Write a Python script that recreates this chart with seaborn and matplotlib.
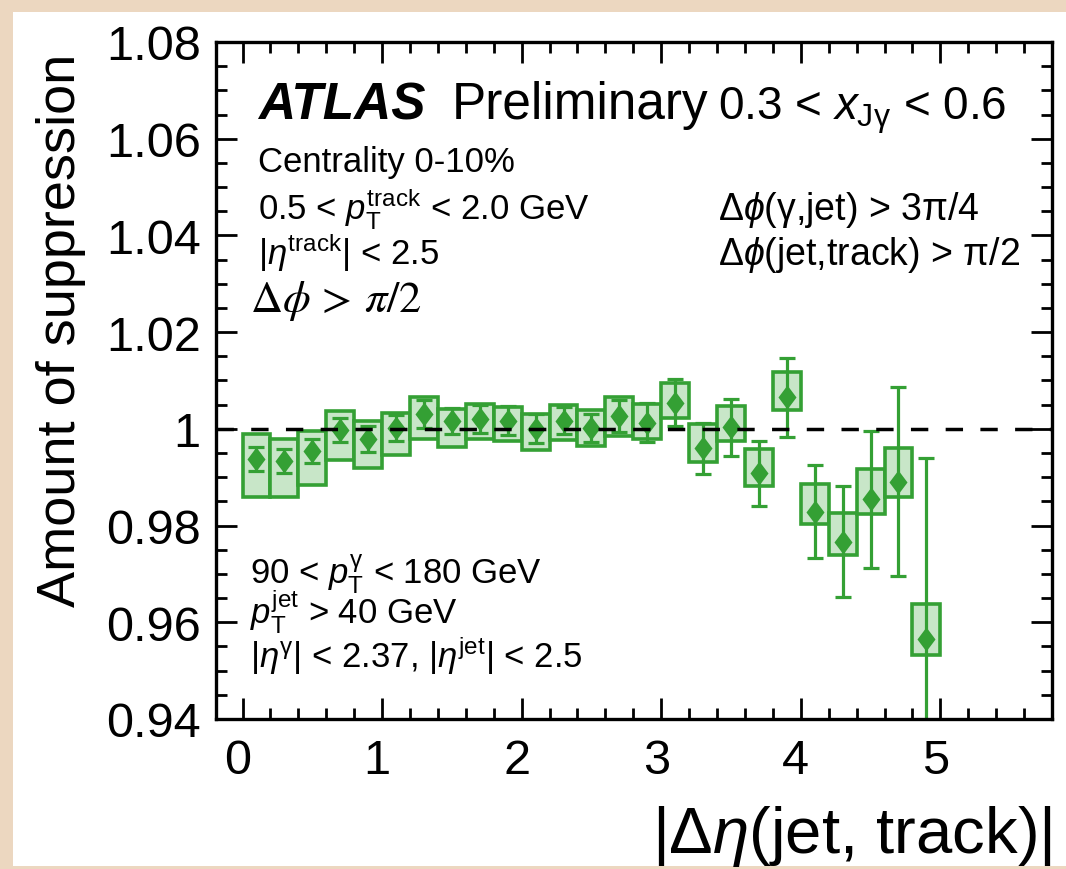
import numpy as np
import pandas as pd
import matplotlib
matplotlib.use("Agg")
import matplotlib.pyplot as plt
import matplotlib.font_manager as fm
from matplotlib.patches import Rectangle
from matplotlib.transforms import ScaledTranslation
from matplotlib.ticker import MultipleLocator, FixedLocator, FixedFormatter
import seaborn as sns

# |delta eta(jet, track)| bin centres (bin width 0.2)
deta = [0.1, 0.3, 0.5, 0.7, 0.9, 1.1, 1.3, 1.5, 1.7, 1.9, 2.1, 2.3, 2.5,
        2.7, 2.9, 3.1, 3.3, 3.5, 3.7, 3.9, 4.1, 4.3, 4.5, 4.7, 4.9]
# amount of suppression
suppression = [0.9938, 0.9934, 0.9954, 0.9998, 0.9979, 1.0001, 1.0031, 1.0017,
               1.0020, 1.0017, 1.0000, 1.0017, 1.0001, 1.0027, 1.0013, 1.0054,
               0.9960, 1.0003, 0.9908, 1.0065, 0.9829, 0.9767, 0.9854, 0.9891,
               0.9565]
# statistical uncertainty (symmetric)
stat_err = [0.0025, 0.0025, 0.0024, 0.0025, 0.0026, 0.0027, 0.0029, 0.0027,
            0.0029, 0.0030, 0.0030, 0.0028, 0.0029, 0.0033, 0.0041, 0.0049,
            0.0053, 0.0059, 0.0067, 0.0081, 0.0096, 0.0114, 0.0141, 0.0196,
            0.0375]
# systematic uncertainty, upward and downward
syst_up = [0.0051, 0.0046, 0.0042, 0.0039, 0.0038, 0.0032, 0.0034, 0.0025,
           0.0031, 0.0029, 0.0030, 0.0032, 0.0038, 0.0039, 0.0038, 0.0040,
           0.0051, 0.0045, 0.0050, 0.0052, 0.0056, 0.0058, 0.0062, 0.0069,
           0.0072]
syst_down = [0.0078, 0.0074, 0.0071, 0.0063, 0.0060, 0.0056, 0.0053, 0.0054,
             0.0042, 0.0043, 0.0043, 0.0041, 0.0037, 0.0041, 0.0035, 0.0031,
             0.0028, 0.0029, 0.0027, 0.0025, 0.0026, 0.0027, 0.0030, 0.0031,
             0.0033]

y_ticks = [0.94, 0.96, 0.98, 1.00, 1.02, 1.04, 1.06, 1.08]
y_tick_labels = ["0.94", "0.96", "0.98", "1", "1.02", "1.04", "1.06", "1.08"]
x_ticks = [0, 1, 2, 3, 4, 5]
x_tick_labels = ["0", "1", "2", "3", "4", "5"]

df = pd.DataFrame({"deta": deta, "val": suppression, "stat": stat_err,
                   "up": syst_up, "down": syst_down})

sns.set_theme(style="ticks")
installed = {f.name for f in fm.fontManager.ttflist}
sans = "Liberation Sans" if "Liberation Sans" in installed else "DejaVu Sans"
plt.rcParams["font.family"] = [sans, "DejaVu Sans"]
plt.rcParams["mathtext.fontset"] = "custom"
plt.rcParams["mathtext.rm"] = sans
plt.rcParams["mathtext.it"] = sans + ":italic"
plt.rcParams["mathtext.bf"] = sans + ":bold"
for key in ("text.color", "axes.labelcolor", "xtick.color", "ytick.color"):
    plt.rcParams[key] = "black"

GREEN = "#34a034"
FILL = "#c8e6c8"

fig = plt.figure(figsize=(10.66, 8.70), dpi=100, facecolor="#ecd7c0")
# white page on the textured backdrop
fig.patches.append(Rectangle((13 / 1066, 3 / 870), 1 - 13 / 1066, 854 / 870,
                             transform=fig.transFigure, facecolor="white",
                             edgecolor="none", zorder=-5))
ax = fig.add_axes([216 / 1066, 150 / 870, 836 / 1066, 677 / 870])
ax.set_facecolor("white")

# systematic boxes
ax.bar(df["deta"], df["up"] + df["down"], bottom=df["val"] - df["down"],
       width=0.2, color=FILL, edgecolor=GREEN, linewidth=2.6, zorder=2)
# statistical error bars
ax.errorbar(df["deta"], df["val"], yerr=df["stat"], fmt="none",
            ecolor=GREEN, elinewidth=2.3, capsize=5.5, capthick=2.3, zorder=3)
# central values
diamond = [(0, 1), (0.75, 0), (0, -1), (-0.75, 0), (0, 1)]
sns.scatterplot(data=df, x="deta", y="val", marker=diamond, s=300,
                color=GREEN, edgecolor=GREEN, linewidth=0, zorder=4, ax=ax,
                legend=False)

ax.axhline(1.0, color="black", linestyle=(0, (5, 5)), linewidth=2.5, zorder=5)

ax.set_xlim(-0.19, 5.8)
ax.set_ylim(0.94, 1.08)
ax.xaxis.set_major_locator(FixedLocator(x_ticks))
ax.xaxis.set_major_formatter(FixedFormatter(x_tick_labels))
ax.xaxis.set_minor_locator(MultipleLocator(0.2))
ax.yaxis.set_major_locator(FixedLocator(y_ticks))
ax.yaxis.set_major_formatter(FixedFormatter(y_tick_labels))
ax.yaxis.set_minor_locator(MultipleLocator(0.005))
ax.tick_params(which="both", direction="in", top=True, right=True,
               width=2.0, colors="black", labelsize=35)
ax.tick_params(which="major", length=15)
ax.tick_params(which="minor", length=8)
ax.tick_params(axis="y", pad=11)
ax.tick_params(axis="x", pad=14)
for s in ax.spines.values():
    s.set_linewidth(2.4)
    s.set_color("black")
    s.set_zorder(6)

# x tick labels sit slightly left of their ticks
shift = ScaledTranslation(-5 / 100, 0, fig.dpi_scale_trans)
for lab in ax.get_xticklabels():
    lab.set_transform(lab.get_transform() + shift)

ax.set_ylabel("Amount of suppression", fontsize=39)
ax.yaxis.set_label_coords(-0.155, 0.576)
ax.set_xlabel(r"|$\Delta\eta$(jet, track)|", fontsize=47, loc="right", labelpad=14)


def at(px, py):
    return ((px - 216) / 836, (720 - py) / 677)


kw = dict(transform=ax.transAxes, va="baseline", ha="left", zorder=7)
ax.text(*at(258, 119), "ATLAS", fontsize=37, fontweight="bold", style="italic", **kw)
ax.text(*at(452, 119), "Preliminary", fontsize=37, **kw)
ax.text(*at(718, 119), r"0.3 < $x_{\mathrm{J\gamma}}$ < 0.6", fontsize=33, **kw)
ax.text(*at(258, 172), "Centrality 0-10%", fontsize=25, **kw)
ax.text(*at(258, 220), r"0.5 < $p_{\mathrm{T}}^{\mathrm{track}}$ < 2.0 GeV", fontsize=25, **kw)
ax.text(*at(258, 265), r"|$\eta^{\mathrm{track}}$| < 2.5", fontsize=25, **kw)
ax.text(*at(250, 312), r"$\Delta\phi\,>\,\pi/2$", fontsize=32, math_fontfamily="stix", **kw)
ax.text(*at(718, 220), r"$\Delta\phi$($\mathrm{\gamma}$,jet) > 3$\mathrm{\pi}$/4", fontsize=27, **kw)
ax.text(*at(718, 265), r"$\Delta\phi$(jet,track) > $\mathrm{\pi}$/2", fontsize=27, **kw)
ax.text(*at(250, 585), r"90 < $p_{\mathrm{T}}^{\mathrm{\gamma}}$ < 180 GeV", fontsize=25, **kw)
ax.text(*at(250, 625), r"$p_{\mathrm{T}}^{\mathrm{jet}}$ > 40 GeV", fontsize=25, **kw)
ax.text(*at(250, 668), r"|$\eta^{\mathrm{\gamma}}$| < 2.37, |$\eta^{\mathrm{jet}}$| < 2.5", fontsize=25, **kw)

fig.savefig("out.png", dpi=100, facecolor=fig.get_facecolor())
